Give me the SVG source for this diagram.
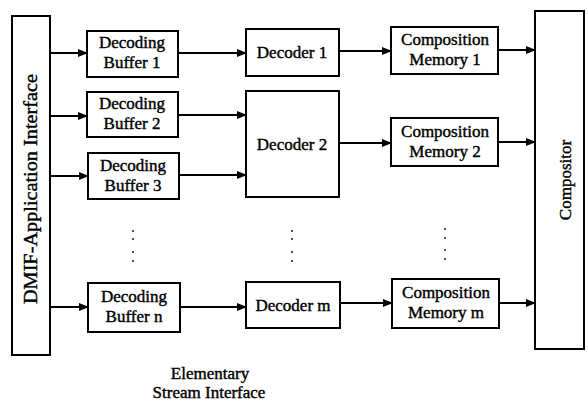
<svg xmlns="http://www.w3.org/2000/svg" width="588" height="401" viewBox="0 0 588 401">
<defs>
<marker id="ah" markerWidth="10" markerHeight="8" refX="9" refY="4" orient="auto" markerUnits="userSpaceOnUse">
<path d="M0,0 L10,4 L0,8 Z" fill="#000"/>
</marker>
<style>
.box{fill:#fff;stroke:#000;stroke-width:2}
.t{font-family:"Liberation Serif","Times New Roman",serif;font-size:17px;fill:#000;stroke:#000;stroke-width:0.4;text-anchor:middle}
.c{stroke:#000;stroke-width:2;fill:none;marker-end:url(#ah)}
.dot{fill:#000}
</style>
</defs>
<rect width="588" height="401" fill="#fff"/>
<g id="dmif">
<rect class="box" x="12" y="16" width="38" height="339"/>
<text class="t" transform="translate(37,189) rotate(-90)" style="font-size:19px" textLength="230" lengthAdjust="spacingAndGlyphs">DMIF-Application Interface</text>
</g>
<g id="buf1"><rect class="box" x="87" y="31" width="91" height="46"/><text class="t" x="132" y="48">Decoding</text><text class="t" x="132" y="68">Buffer 1</text></g>
<g id="buf2"><rect class="box" x="87" y="92" width="91" height="45"/><text class="t" x="132" y="109">Decoding</text><text class="t" x="132" y="129">Buffer 2</text></g>
<g id="buf3"><rect class="box" x="88" y="153" width="91" height="46"/><text class="t" x="133" y="171">Decoding</text><text class="t" x="133" y="191">Buffer 3</text></g>
<g id="bufn"><rect class="box" x="88" y="283" width="92" height="49"/><text class="t" x="134" y="302">Decoding</text><text class="t" x="134" y="322">Buffer n</text></g>
<g id="dec1"><rect class="box" x="246" y="29" width="93" height="47"/><text class="t" x="292" y="58">Decoder 1</text></g>
<g id="dec2"><rect class="box" x="246" y="91" width="93" height="106"/><text class="t" x="292" y="150">Decoder 2</text></g>
<g id="decm"><rect class="box" x="246" y="282" width="94" height="46"/><text class="t" x="293" y="311">Decoder m</text></g>
<g id="mem1"><rect class="box" x="391" y="27" width="107" height="47"/><text class="t" x="445" y="45">Composition</text><text class="t" x="445" y="65">Memory 1</text></g>
<g id="mem2"><rect class="box" x="391" y="118" width="107" height="48"/><text class="t" x="445" y="137">Composition</text><text class="t" x="445" y="157">Memory 2</text></g>
<g id="memm"><rect class="box" x="392" y="279" width="107" height="49"/><text class="t" x="446" y="298">Composition</text><text class="t" x="446" y="318">Memory m</text></g>
<g id="compositor">
<rect class="box" x="535" y="11" width="49" height="338"/>
<text class="t" transform="translate(571,180) rotate(-90)">Compositor</text>
</g>
<g id="connectors">
<line class="c" x1="50" y1="53" x2="87" y2="53"/>
<line class="c" x1="50" y1="116" x2="87" y2="116"/>
<line class="c" x1="50" y1="176" x2="88" y2="176"/>
<line class="c" x1="50" y1="307" x2="88" y2="307"/>
<line class="c" x1="178" y1="53" x2="246" y2="53"/>
<line class="c" x1="178" y1="115" x2="246" y2="115"/>
<line class="c" x1="179" y1="175" x2="246" y2="175"/>
<line class="c" x1="180" y1="307" x2="246" y2="307"/>
<line class="c" x1="339" y1="51" x2="391" y2="51"/>
<line class="c" x1="339" y1="143" x2="391" y2="143"/>
<line class="c" x1="340" y1="303" x2="392" y2="303"/>
<line class="c" x1="498" y1="50" x2="535" y2="50"/>
<line class="c" x1="498" y1="142" x2="535" y2="142"/>
<line class="c" x1="499" y1="303" x2="535" y2="303"/>
</g>
<g id="dots">
<circle class="dot" cx="133" cy="231" r="0.9"/><circle class="dot" cx="133" cy="239" r="0.9"/><circle class="dot" cx="133" cy="252" r="0.9"/><circle class="dot" cx="133" cy="261" r="0.9"/>
<circle class="dot" cx="292" cy="231" r="0.9"/><circle class="dot" cx="292" cy="239" r="0.9"/><circle class="dot" cx="292" cy="252" r="0.9"/><circle class="dot" cx="292" cy="261" r="0.9"/>
<circle class="dot" cx="445" cy="229" r="0.9"/><circle class="dot" cx="445" cy="238" r="0.9"/><circle class="dot" cx="445" cy="250" r="0.9"/><circle class="dot" cx="445" cy="259" r="0.9"/>
</g>
<g id="label">
<text class="t" x="210" y="379">Elementary</text>
<text class="t" x="209" y="398">Stream Interface</text>
</g>
</svg>
